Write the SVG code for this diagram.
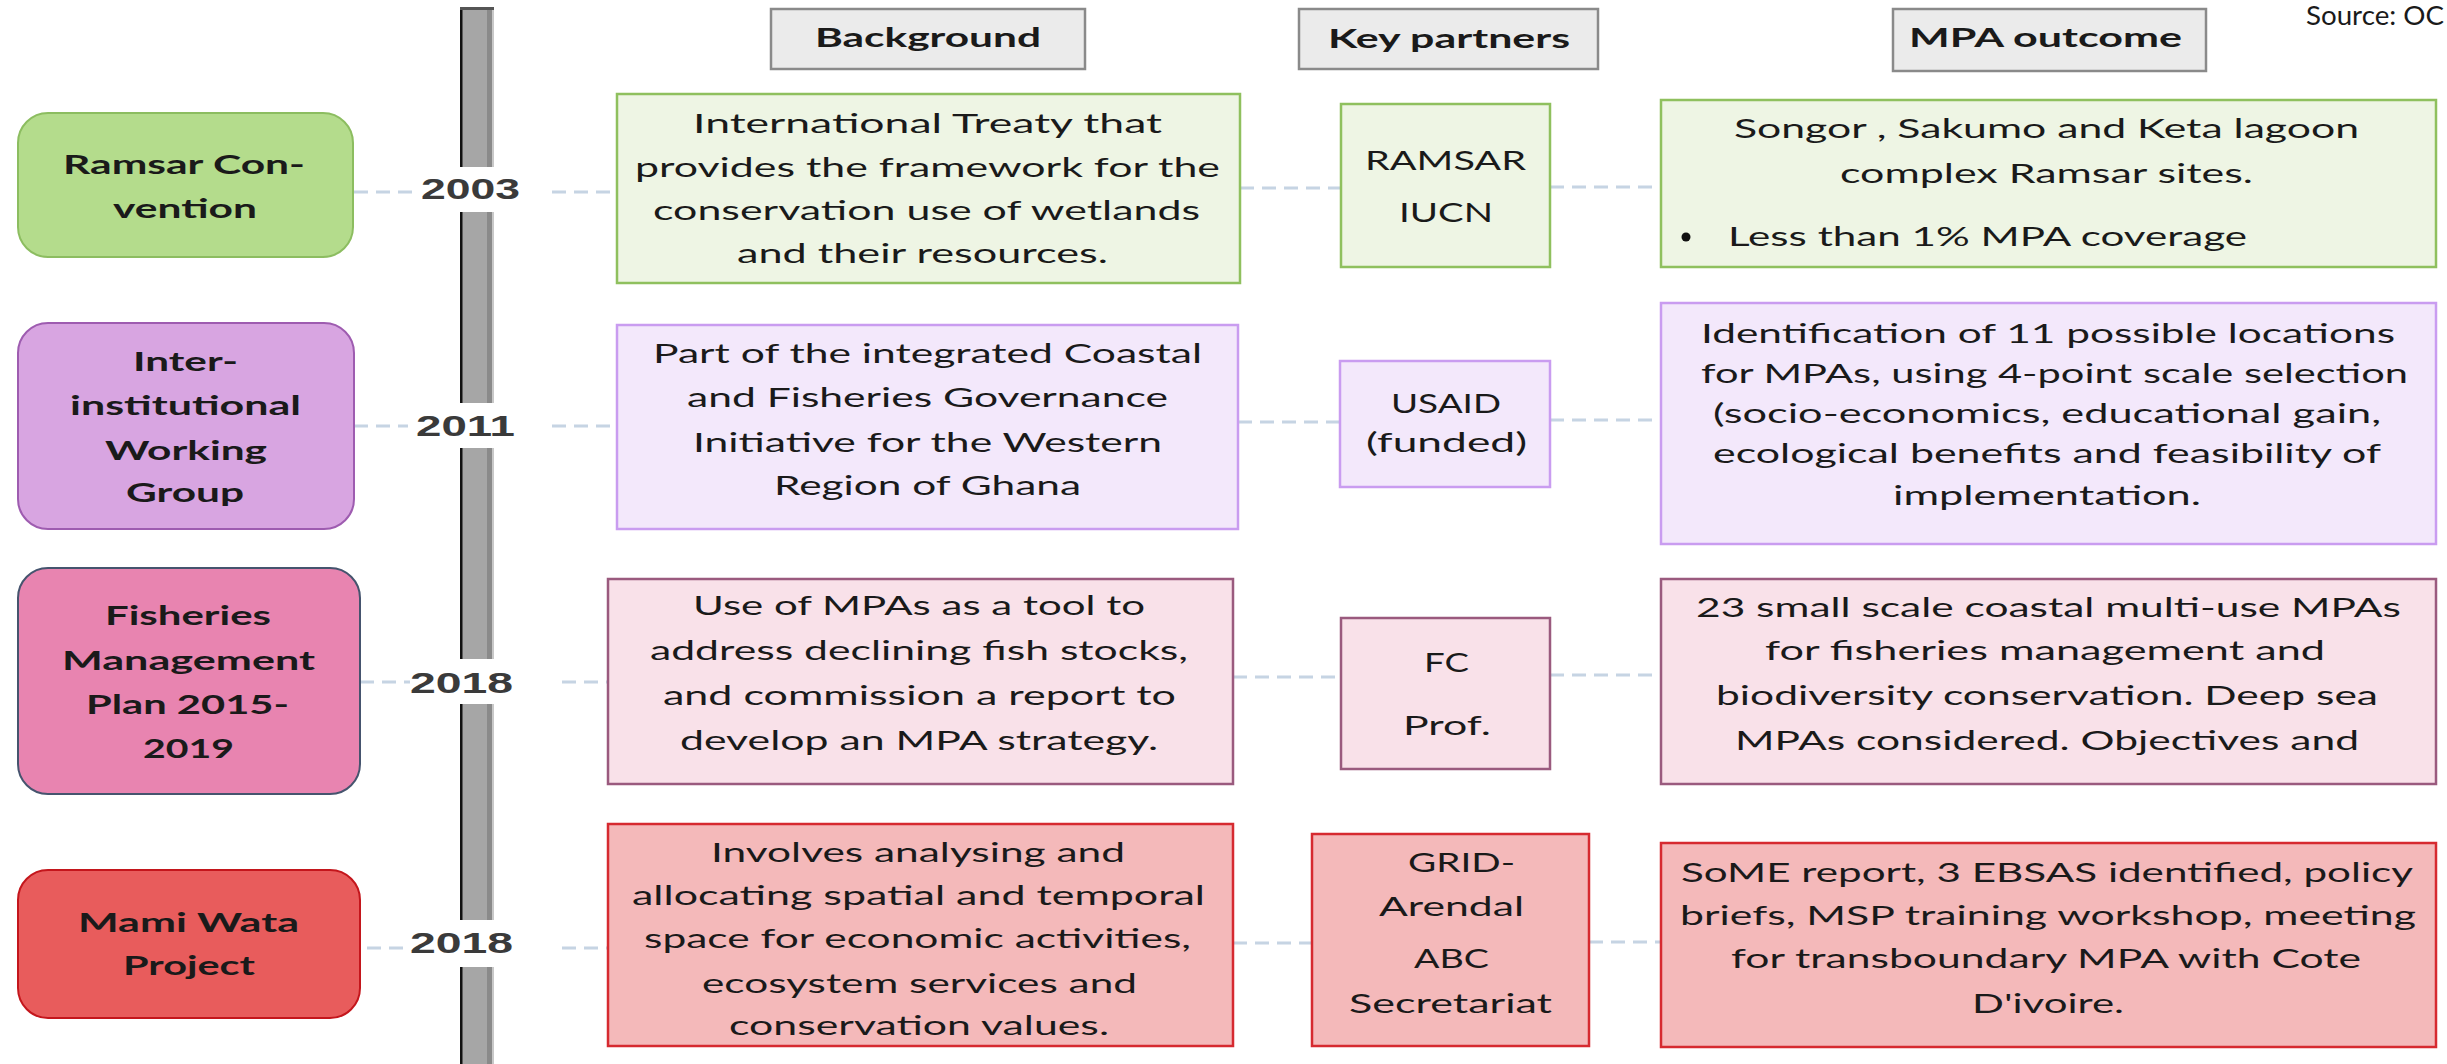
<svg xmlns="http://www.w3.org/2000/svg" width="2447" height="1064" viewBox="0 0 2447 1064">
<style>
text{font-family:Lato,"Open Sans","Liberation Sans",sans-serif;font-size:27.5px;fill:#1a1a1a}
.b{font-weight:bold}
.yr{font-family:"Liberation Sans",Arial,sans-serif;font-weight:bold;font-size:29px;fill:#3a3a3a}
.hdr{fill:#ebebeb;stroke:#8a8a8a;stroke-width:2.5}
.g1{fill:#b4dc8c;stroke:#8cbd60;stroke-width:2}
.g2{fill:#eef5e4;stroke:#8fc05e;stroke-width:2.5}
.p1{fill:#d8a5e1;stroke:#9e5cb0;stroke-width:2}
.p2{fill:#f3e8fb;stroke:#c99cf0;stroke-width:2.5}
.k1{fill:#e884b0;stroke:#45546e;stroke-width:2}
.k2{fill:#f9e1e9;stroke:#9a5a7e;stroke-width:2.5}
.r1{fill:#e85c5c;stroke:#c4161c;stroke-width:2}
.r2{fill:#f4b9ba;stroke:#d62a30;stroke-width:2.5}
.cn{stroke:#c6d4e3;stroke-width:3;stroke-dasharray:14 8;fill:none}
</style>

<!-- timeline bar -->
<g id="timeline">
<rect x="460" y="7" width="34" height="1060" fill="#a6a6a6"/>
<rect x="460" y="7" width="2.5" height="1060" fill="#111"/>
<rect x="487" y="7" width="5" height="1060" fill="#8a8a8a"/>
<rect x="492" y="7" width="2" height="1060" fill="#c8c8c8"/>
<rect x="460" y="7" width="34" height="3" fill="#555"/>
</g>

<!-- connectors -->
<g id="connectors">
<line class="cn" x1="354" y1="192" x2="418" y2="192"/>
<line class="cn" x1="552" y1="192" x2="617" y2="192"/>
<line class="cn" x1="1240" y1="188" x2="1341" y2="188"/>
<line class="cn" x1="1550" y1="187" x2="1661" y2="187"/>

<line class="cn" x1="354" y1="426" x2="408" y2="426"/>
<line class="cn" x1="552" y1="426" x2="617" y2="426"/>
<line class="cn" x1="1238" y1="422" x2="1340" y2="422"/>
<line class="cn" x1="1550" y1="420" x2="1661" y2="420"/>

<line class="cn" x1="360" y1="682" x2="410" y2="682"/>
<line class="cn" x1="562" y1="682" x2="608" y2="682"/>
<line class="cn" x1="1233" y1="677" x2="1341" y2="677"/>
<line class="cn" x1="1550" y1="675" x2="1661" y2="675"/>

<line class="cn" x1="345" y1="948" x2="410" y2="948"/>
<line class="cn" x1="562" y1="948" x2="608" y2="948"/>
<line class="cn" x1="1233" y1="943" x2="1312" y2="943"/>
<line class="cn" x1="1589" y1="942" x2="1661" y2="942"/>
</g>

<!-- year labels -->
<g id="year-2003">
<rect x="455" y="167" width="44" height="45" fill="#fff"/>
<text class="yr" x="421" y="199" textLength="99" lengthAdjust="spacingAndGlyphs">2003</text>
</g>
<g id="year-2011">
<rect x="455" y="403" width="44" height="45" fill="#fff"/>
<text class="yr" x="416" y="436" textLength="99" lengthAdjust="spacingAndGlyphs">2011</text>
</g>
<g id="year-2018a">
<rect x="455" y="659" width="44" height="45" fill="#fff"/>
<text class="yr" x="410" y="693" textLength="103" lengthAdjust="spacingAndGlyphs">2018</text>
</g>
<g id="year-2018b">
<rect x="455" y="920" width="44" height="47" fill="#fff"/>
<text class="yr" x="410" y="953" textLength="103" lengthAdjust="spacingAndGlyphs">2018</text>
</g>

<!-- headers -->
<g id="hdr-background">
<rect class="hdr" x="771" y="9" width="314" height="60"/>
<text class="b" x="815" y="47" textLength="226" lengthAdjust="spacingAndGlyphs">Background</text>
</g>
<g id="hdr-partners">
<rect class="hdr" x="1299" y="9" width="299" height="60"/>
<text class="b" x="1328" y="48" textLength="242" lengthAdjust="spacingAndGlyphs">Key partners</text>
</g>
<g id="hdr-outcome">
<rect class="hdr" x="1893" y="9" width="313" height="62"/>
<text class="b" x="1909" y="47" textLength="273" lengthAdjust="spacingAndGlyphs">MPA outcome</text>
</g>
<g id="source">
<text x="2306" y="25" textLength="138" lengthAdjust="spacingAndGlyphs">Source: OC</text>
</g>

<!-- Row 1 -->
<g id="ramsar">
<rect class="g1" x="18" y="113" width="335" height="144" rx="30"/>
<text class="b" x="63" y="174" textLength="242" lengthAdjust="spacingAndGlyphs">Ramsar Con-</text>
<text class="b" x="113" y="218" textLength="144" lengthAdjust="spacingAndGlyphs">vention</text>
</g>
<g id="bg-ramsar">
<rect class="g2" x="617" y="94" width="623" height="189"/>
<text x="693" y="133" textLength="469" lengthAdjust="spacingAndGlyphs">International Treaty  that</text>
<text x="635" y="177" textLength="585" lengthAdjust="spacingAndGlyphs">provides the framework for the</text>
<text x="653" y="220" textLength="547" lengthAdjust="spacingAndGlyphs">conservation use of wetlands</text>
<text x="737" y="263" textLength="371" lengthAdjust="spacingAndGlyphs">and their resources.</text>
</g>
<g id="kp-ramsar">
<rect class="g2" x="1341" y="104" width="209" height="163"/>
<text x="1365" y="170" textLength="161" lengthAdjust="spacingAndGlyphs">RAMSAR</text>
<text x="1399" y="222" textLength="94" lengthAdjust="spacingAndGlyphs">IUCN</text>
</g>
<g id="out-ramsar">
<rect class="g2" x="1661" y="100" width="775" height="167"/>
<text x="1734" y="138" textLength="625" lengthAdjust="spacingAndGlyphs">Songor , Sakumo and Keta lagoon</text>
<text x="1840" y="183" textLength="413" lengthAdjust="spacingAndGlyphs">complex Ramsar sites.</text>
<circle cx="1686" cy="237" r="4.5" fill="#111"/>
<text x="1728" y="246" textLength="519" lengthAdjust="spacingAndGlyphs">Less than 1% MPA coverage</text>
</g>

<!-- Row 2 -->
<g id="iiwg">
<rect class="p1" x="18" y="323" width="336" height="206" rx="30"/>
<text class="b" x="133" y="371" textLength="105" lengthAdjust="spacingAndGlyphs">Inter-</text>
<text class="b" x="70" y="415" textLength="231" lengthAdjust="spacingAndGlyphs">institutional</text>
<text class="b" x="105" y="460" textLength="162" lengthAdjust="spacingAndGlyphs">Working</text>
<text class="b" x="126" y="502" textLength="118" lengthAdjust="spacingAndGlyphs">Group</text>
</g>
<g id="bg-iiwg">
<rect class="p2" x="617" y="325" width="621" height="204"/>
<text x="653" y="363" textLength="549" lengthAdjust="spacingAndGlyphs">Part of the integrated Coastal</text>
<text x="687" y="407" textLength="481" lengthAdjust="spacingAndGlyphs">and Fisheries Governance</text>
<text x="693" y="452" textLength="469" lengthAdjust="spacingAndGlyphs">Initiative for the Western</text>
<text x="774" y="495" textLength="307" lengthAdjust="spacingAndGlyphs">Region of Ghana</text>
</g>
<g id="kp-iiwg">
<rect class="p2" x="1340" y="361" width="210" height="126"/>
<text x="1391" y="413" textLength="110" lengthAdjust="spacingAndGlyphs">USAID</text>
<text x="1366" y="452" textLength="161" lengthAdjust="spacingAndGlyphs">(funded)</text>
</g>
<g id="out-iiwg">
<rect class="p2" x="1661" y="303" width="775" height="241"/>
<text x="1701" y="343" textLength="694" lengthAdjust="spacingAndGlyphs">Identification of 11 possible locations</text>
<text x="1701" y="383" textLength="707" lengthAdjust="spacingAndGlyphs">for MPAs, using 4-point scale selection</text>
<text x="1713" y="423" textLength="668" lengthAdjust="spacingAndGlyphs">(socio-economics, educational gain,</text>
<text x="1713" y="463" textLength="668" lengthAdjust="spacingAndGlyphs">ecological benefits and feasibility of</text>
<text x="1893" y="505" textLength="308" lengthAdjust="spacingAndGlyphs">implementation.</text>
</g>

<!-- Row 3 -->
<g id="fmp">
<rect class="k1" x="18" y="568" width="342" height="226" rx="30"/>
<text class="b" x="105" y="625" textLength="166" lengthAdjust="spacingAndGlyphs">Fisheries</text>
<text class="b" x="62" y="670" textLength="253" lengthAdjust="spacingAndGlyphs">Management</text>
<text class="b" x="86" y="714" textLength="203" lengthAdjust="spacingAndGlyphs">Plan 2015-</text>
<text class="b" x="143" y="758" textLength="91" lengthAdjust="spacingAndGlyphs">2019</text>
</g>
<g id="bg-fmp">
<rect class="k2" x="608" y="579" width="625" height="205"/>
<text x="693" y="615" textLength="452" lengthAdjust="spacingAndGlyphs">Use of MPAs as a tool to</text>
<text x="650" y="660" textLength="538" lengthAdjust="spacingAndGlyphs">address declining fish stocks,</text>
<text x="663" y="705" textLength="513" lengthAdjust="spacingAndGlyphs">and commission a report to</text>
<text x="680" y="750" textLength="478" lengthAdjust="spacingAndGlyphs">develop an MPA strategy.</text>
</g>
<g id="kp-fmp">
<rect class="k2" x="1341" y="618" width="209" height="151"/>
<text x="1424" y="672" textLength="45" lengthAdjust="spacingAndGlyphs">FC</text>
<text x="1403" y="735" textLength="88" lengthAdjust="spacingAndGlyphs">Prof.</text>
</g>
<g id="out-fmp">
<rect class="k2" x="1661" y="579" width="775" height="205"/>
<text x="1696" y="617" textLength="705" lengthAdjust="spacingAndGlyphs">23 small scale coastal multi-use MPAs</text>
<text x="1765" y="660" textLength="560" lengthAdjust="spacingAndGlyphs">for fisheries management and</text>
<text x="1716" y="705" textLength="662" lengthAdjust="spacingAndGlyphs">biodiversity conservation. Deep sea</text>
<text x="1735" y="750" textLength="624" lengthAdjust="spacingAndGlyphs">MPAs considered. Objectives and</text>
</g>

<!-- Row 4 -->
<g id="mamiwata">
<rect class="r1" x="18" y="870" width="342" height="148" rx="30"/>
<text class="b" x="78" y="932" textLength="221" lengthAdjust="spacingAndGlyphs">Mami Wata</text>
<text class="b" x="123" y="975" textLength="132" lengthAdjust="spacingAndGlyphs">Project</text>
</g>
<g id="bg-mamiwata">
<rect class="r2" x="608" y="824" width="625" height="222"/>
<text x="711" y="862" textLength="414" lengthAdjust="spacingAndGlyphs">Involves analysing and</text>
<text x="632" y="905" textLength="573" lengthAdjust="spacingAndGlyphs">allocating spatial and temporal</text>
<text x="644" y="948" textLength="547" lengthAdjust="spacingAndGlyphs">space for economic activities,</text>
<text x="702" y="993" textLength="435" lengthAdjust="spacingAndGlyphs">ecosystem services and</text>
<text x="729" y="1035" textLength="380" lengthAdjust="spacingAndGlyphs">conservation values.</text>
</g>
<g id="kp-mamiwata">
<rect class="r2" x="1312" y="834" width="277" height="212"/>
<text x="1408" y="872" textLength="107" lengthAdjust="spacingAndGlyphs">GRID-</text>
<text x="1379" y="916" textLength="145" lengthAdjust="spacingAndGlyphs">Arendal</text>
<text x="1414" y="968" textLength="75" lengthAdjust="spacingAndGlyphs">ABC</text>
<text x="1349" y="1013" textLength="203" lengthAdjust="spacingAndGlyphs">Secretariat</text>
</g>
<g id="out-mamiwata">
<rect class="r2" x="1661" y="843" width="775" height="204"/>
<text x="1681" y="882" textLength="732" lengthAdjust="spacingAndGlyphs">SoME report, 3 EBSAS identified, policy</text>
<text x="1680" y="925" textLength="736" lengthAdjust="spacingAndGlyphs">briefs, MSP training workshop, meeting</text>
<text x="1731" y="968" textLength="630" lengthAdjust="spacingAndGlyphs">for transboundary MPA with Cote</text>
<text x="1972" y="1013" textLength="152" lengthAdjust="spacingAndGlyphs">D'ivoire.</text>
</g>
</svg>
